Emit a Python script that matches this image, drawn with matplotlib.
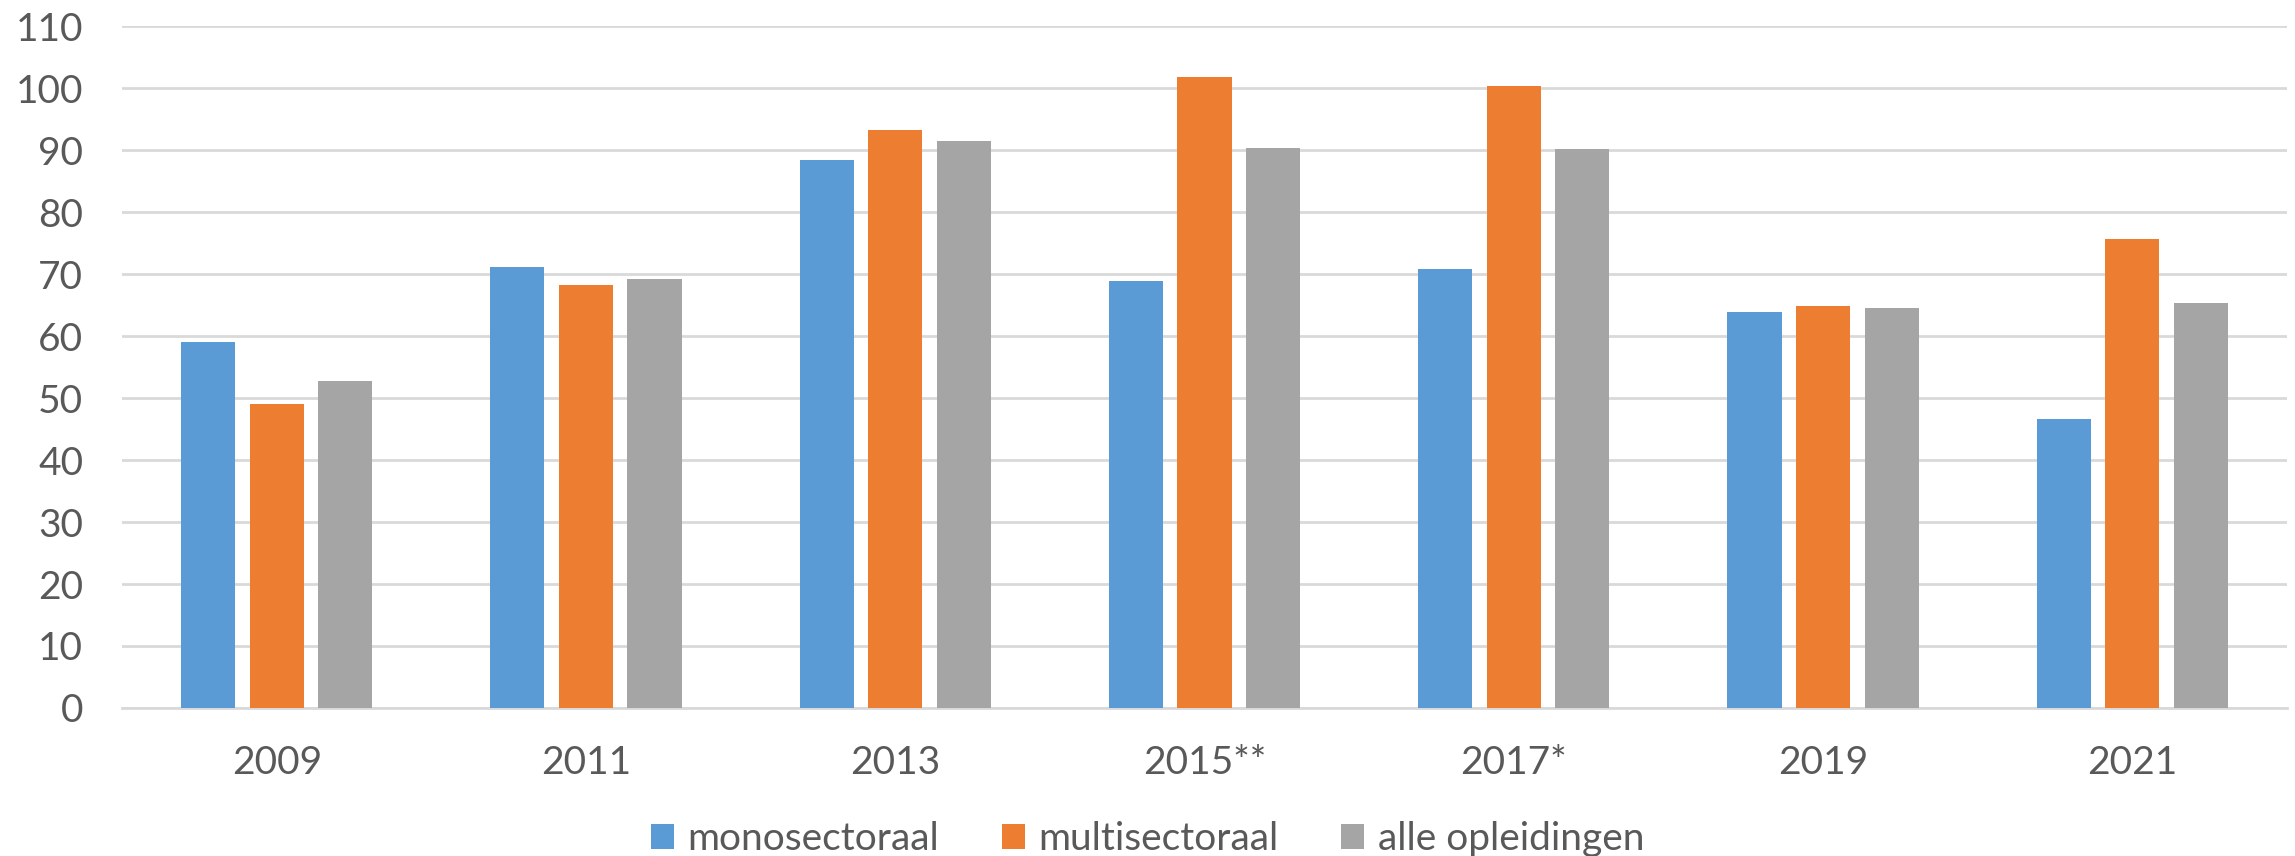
import numpy as np
import matplotlib.pyplot as plt

YEARS = ["2009", "2011", "2013", "2015**", "2017*", "2019", "2021"]
MONO = [59.0, 71.1, 88.4, 68.8, 70.8, 63.9, 46.6]
MULTI = [49.1, 68.2, 93.2, 101.7, 100.3, 64.8, 75.6]
ALLE = [52.7, 69.2, 91.5, 90.4, 90.2, 64.5, 65.3]
SERIES = ["monosectoraal", "multisectoraal", "alle opleidingen"]
COLORS = ["#5B9BD5", "#ED7D31", "#A5A5A5"]

TEXT = "#595959"
GRID = "#D9D9D9"
FS = 28

plt.rcParams["font.family"] = ["Lato", "DejaVu Sans"]

fig = plt.figure(figsize=(22.95, 8.56), dpi=100)
ax = fig.add_axes([0.0532, 0.1729, 0.9433, 0.7967])

x = np.arange(len(YEARS))
width = 0.175
step = 0.2217
for i, (vals, name, col) in enumerate(zip([MONO, MULTI, ALLE], SERIES, COLORS)):
    ax.bar(x + (i - 1) * step, vals, width, color=col, label=name, zorder=3)

ax.set_xlim(-0.5, len(YEARS) - 0.5)
ax.set_ylim(0, 110)
ax.set_yticks(range(0, 111, 10))
ax.set_xticks(x)
ax.set_xticklabels(YEARS)
ax.grid(axis="y", color=GRID, linewidth=2, zorder=0)
for side in ["top", "right", "left"]:
    ax.spines[side].set_visible(False)
ax.spines["bottom"].set_color(GRID)
ax.spines["bottom"].set_linewidth(2)
ax.tick_params(axis="both", length=0, labelsize=FS, labelcolor=TEXT)
ax.tick_params(axis="y", pad=28)
ax.tick_params(axis="x", pad=27)

leg = fig.legend(loc="center", bbox_to_anchor=(0.5, 1 - 839 / 856), ncol=3,
                 frameon=False, fontsize=FS, handlelength=0.6, handleheight=0.6,
                 handletextpad=0.35, columnspacing=1.6, borderaxespad=0)
for t in leg.get_texts():
    t.set_color(TEXT)

fig.savefig("out.png", dpi=100)
